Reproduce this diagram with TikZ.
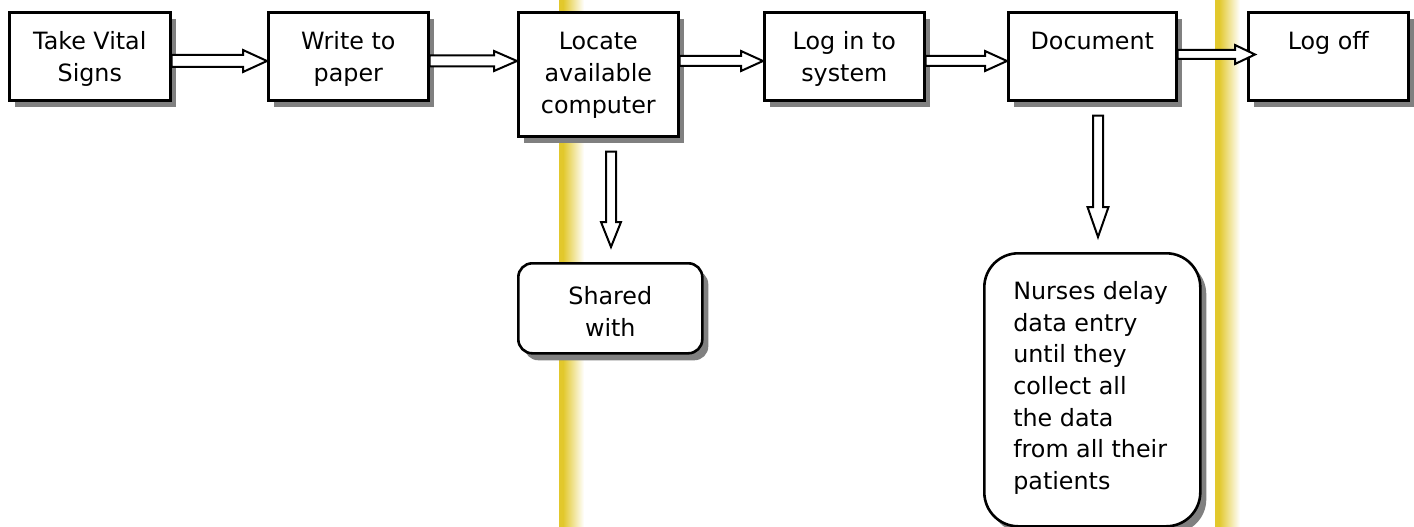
\documentclass[tikz,border=0pt]{standalone}
\usepackage{fontspec}
\setmainfont{DejaVu Sans}
\usetikzlibrary{calc,shadows}
\definecolor{barY}{RGB}{226,200,44}
\definecolor{shadowgray}{RGB}{128,128,128}
\tikzset{
  box/.style={draw=black, line width=2.6pt, fill=white, inner sep=0pt, anchor=north west,
    font=\fontsize{23.8}{31.7}\selectfont,
    drop shadow={shadow xshift=6pt, shadow yshift=-7pt, fill=shadowgray, opacity=1}},
  blockarrow/.style={draw=black, line width=2pt, fill=white, line join=miter},
}
\newcommand\boxtext[4]{\parbox[c][#2][t]{#1}{\centering\rule{0pt}{#3}#4}}
\newcommand\hblock[5]{%
  \draw[blockarrow] let \p1=(#1), \p2=(#2) in
    (\x1,\y1+#3) -- (\x2-#5,\y1+#3) -- (\x2-#5,\y1+#4) -- (\x2,\y1)
    -- (\x2-#5,\y1-#4) -- (\x2-#5,\y1-#3) -- (\x1,\y1-#3) -- cycle;}
\newcommand\vblock[5]{%
  \draw[blockarrow] let \p1=(#1), \p2=(#2) in
    (\x1-#3,\y1) -- (\x1-#3,\y2+#5) -- (\x1-#4,\y2+#5) -- (\x1,\y2)
    -- (\x1+#4,\y2+#5) -- (\x1+#3,\y2+#5) -- (\x1+#3,\y1) -- cycle;}
\begin{document}
\begin{tikzpicture}[x=1pt,y=-1pt]
\useasboundingbox (0,0) rectangle (1414,527);
% yellow bars
\fill[barY] (559,0) rectangle (563,527);
\shade[left color=barY, right color=white] (563,0) rectangle (584,527);
\fill[barY] (1215,0) rectangle (1219,527);
\shade[left color=barY, right color=white] (1219,0) rectangle (1240,527);
% helper coordinates
\coordinate (row1) at (0,61);
\coordinate (row2) at (0,54.5);
\coordinate (col1) at (611,0);
\coordinate (col2) at (1098,0);
% boxes
\node[box] (b1) at (8,11) {\boxtext{161pt}{88pt}{37.5pt}{Take Vital\\Signs}};
\node[box] (b2) at (267,11) {\boxtext{160pt}{88pt}{37.5pt}{Write to\\paper}};
\node[box] (b3) at (517,11) {\boxtext{160pt}{124pt}{37.5pt}{Locate\\available\\computer}};
\node[box] (b4) at (763,11) {\boxtext{160pt}{88pt}{37.5pt}{Log in to\\system}};
\node[box] (b5) at (1007,11) {\boxtext{168pt}{88pt}{37.5pt}{Document}};
\node[box] (b6) at (1247,11) {\boxtext{160pt}{88pt}{37.5pt}{Log off}};
\node[box, rounded corners=14pt] (shared) at (517,262) {\boxtext{184pt}{90pt}{41pt}{Shared\\with}};
\node[box, rounded corners=34pt] (nurses) at (983,252)
  {\parbox[c][273pt][t]{216pt}{\raggedright\leftskip=29pt\rule{0pt}{46pt}Nurses delay\\data entry\\until they\\collect all\\the data\\from all their\\patients}};
% horizontal arrows
\hblock{b1.east |- row1}{b2.west |- row1}{6pt}{11pt}{24pt}
\hblock{b2.east |- row1}{b3.west |- row1}{5.5pt}{10pt}{23pt}
\hblock{b3.east |- row1}{b4.west |- row1}{5pt}{10pt}{22pt}
\hblock{b4.east |- row1}{b5.west |- row1}{5pt}{10pt}{22pt}
\hblock{b5.east |- row2}{$(b6.west |- row2)+(8,0)$}{4.5pt}{9.5pt}{20pt}
% vertical arrows
\vblock{$(b3.south -| col1)+(0,14)$}{$(shared.north -| col1)+(0,-15)$}{5pt}{10pt}{25pt}
\vblock{$(b5.south -| col2)+(0,14)$}{$(nurses.north -| col2)+(0,-15)$}{5pt}{10.5pt}{30pt}
\end{tikzpicture}
\end{document}
